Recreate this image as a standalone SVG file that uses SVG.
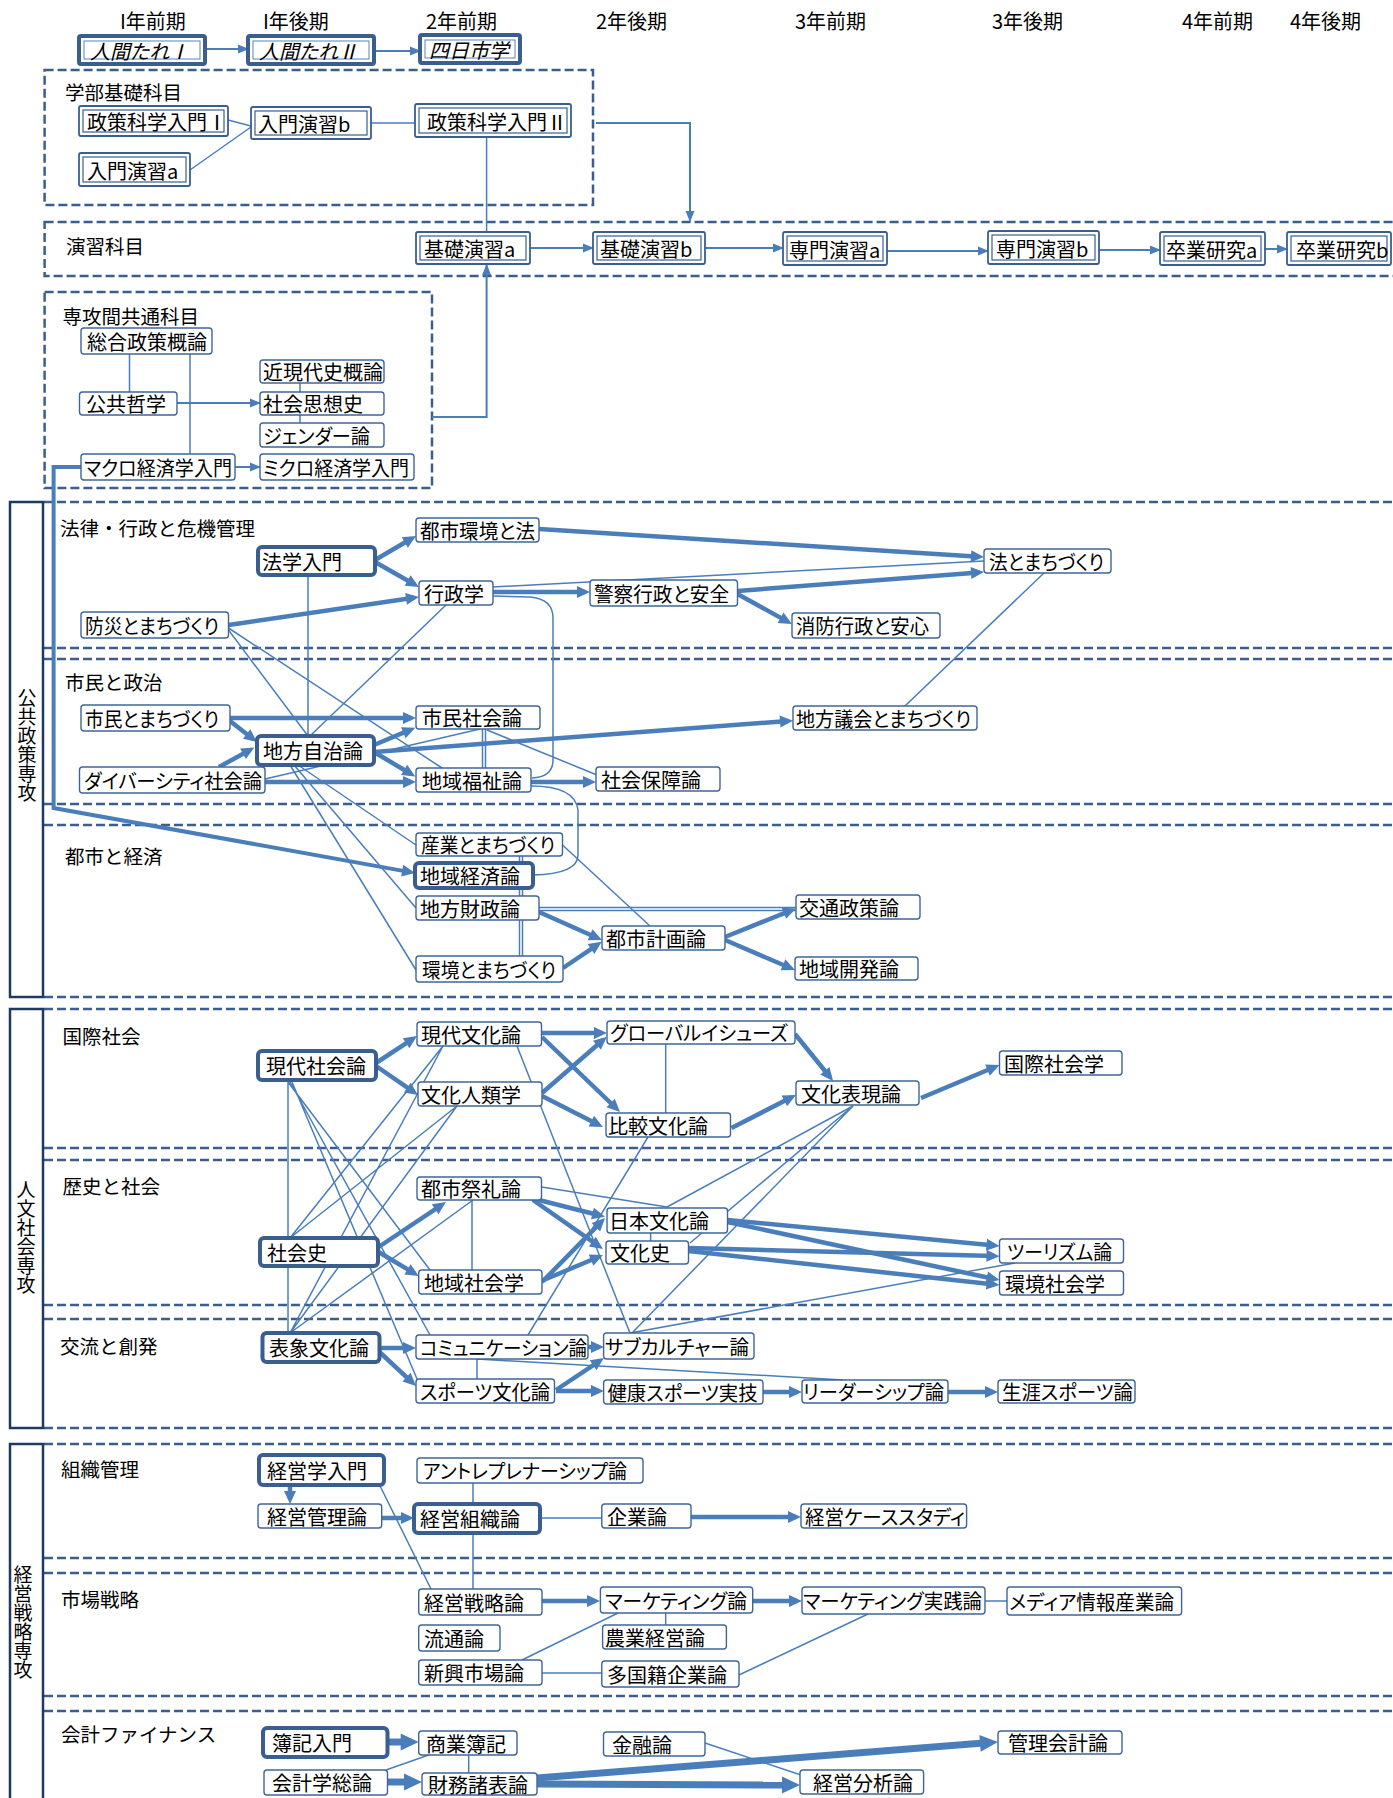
<svg xmlns="http://www.w3.org/2000/svg" width="1393" height="1798" viewBox="0 0 1393 1798">
<style>
text{font-family:"Noto Sans CJK JP","Noto Sans",sans-serif;fill:#000;}
.h{font-size:20px;dominant-baseline:central;}
.lb{font-size:19.5px;dominant-baseline:central;}
.v{font-size:19px;text-anchor:middle;writing-mode:vertical-rl;}
.n text,.nt text,.nd text,.nh text{font-size:20px;dominant-baseline:central;font-feature-settings:"palt";}
.n rect{fill:#fff;stroke:#3F6597;stroke-width:1.4;}
.nt rect{fill:#fff;stroke:#3A5F8F;stroke-width:4;}
.nd rect{fill:#fff;stroke:#3A5F8F;stroke-width:1.8;}
.nd rect.i{fill:none;stroke-width:1.2;}
.nh rect{fill:#fff;stroke:#3A5F8F;stroke-width:4;}
.nh rect.i{fill:none;stroke:#5B83BC;stroke-width:1;}
.nh text{font-style:italic;}
.dash{fill:none;stroke:#3B5E8F;stroke-width:2.5;stroke-dasharray:9 4;}
.side{fill:none;stroke:#1F3A5F;stroke-width:2.5;}
.c{fill:none;stroke:#4A7EBB;stroke-width:1.5;}
.ca{stroke-width:2;marker-end:url(#ah);}
.ck{stroke-width:4.5;marker-end:url(#ak);}
.cx{stroke-width:7;marker-end:url(#ax);}
</style>
<defs>
<marker id="ah" markerUnits="userSpaceOnUse" markerWidth="11" markerHeight="9" refX="10" refY="4.5" orient="auto" overflow="visible"><path d="M0,0 L11,4.5 L0,9 z" fill="#4A7EBB"/></marker>
<marker id="ak" markerUnits="userSpaceOnUse" markerWidth="13" markerHeight="12" refX="8" refY="6" orient="auto" overflow="visible"><path d="M0,0 L13,6 L0,12 z" fill="#4A7EBB"/></marker>
<marker id="ax" markerUnits="userSpaceOnUse" markerWidth="18" markerHeight="17" refX="10" refY="8.5" orient="auto" overflow="visible"><path d="M0,0 L18,8.5 L0,17 z" fill="#4A7EBB"/></marker>
</defs>
<rect width="1393" height="1798" fill="#fff"/>

<!-- term headers -->
<g id="headers">
<text class="h" x="120" y="20">I年前期</text>
<text class="h" x="263" y="20">I年後期</text>
<text class="h" x="426" y="20">2年前期</text>
<text class="h" x="596" y="20">2年後期</text>
<text class="h" x="795" y="20">3年前期</text>
<text class="h" x="992" y="20">3年後期</text>
<text class="h" x="1182" y="20">4年前期</text>
<text class="h" x="1290" y="20">4年後期</text>
</g>

<!-- group frames and section rules -->
<g id="frames">
<rect class="dash" x="44.6" y="70" width="548.4" height="135"/>
<rect class="dash" x="44.6" y="222" width="1360" height="54"/>
<rect class="dash" x="44.6" y="292" width="387.4" height="196"/>
<path class="dash" d="M44,502H1393M44,648H1393M44,659H1393M44,804H1393M44,825H1393M44,997H1393"/>
<path class="dash" d="M44,1009H1393M44,1148H1393M44,1160H1393M44,1305H1393M44,1319H1393M44,1428H1393"/>
<path class="dash" d="M44,1444H1393M44,1558H1393M44,1573H1393M44,1696H1393M44,1711H1393"/>
<rect class="side" x="10" y="502" width="33" height="495"/>
<rect class="side" x="10" y="1009" width="33" height="419"/>
<rect class="side" x="10" y="1444" width="33" height="380"/>
<text class="v" x="27" y="745">公共政策専攻</text>
<text class="v" x="26" y="1237">人文社会専攻</text>
<text class="v" x="23" y="1622">経営戦略専攻</text>
<text class="lb" x="65" y="91">学部基礎科目</text>
<text class="lb" x="66" y="245">演習科目</text>
<text class="lb" x="62.5" y="315">専攻間共通科目</text>
<text class="lb" x="60" y="527">法律・行政と危機管理</text>
<text class="lb" x="65" y="681">市民と政治</text>
<text class="lb" x="65" y="855">都市と経済</text>
<text class="lb" x="62.5" y="1035">国際社会</text>
<text class="lb" x="62.5" y="1185">歴史と社会</text>
<text class="lb" x="60" y="1345">交流と創発</text>
<text class="lb" x="61" y="1468">組織管理</text>
<text class="lb" x="61" y="1598">市場戦略</text>
<text class="lb" x="61" y="1733">会計ファイナンス</text>
</g>

<!-- connectors -->
<g id="connectors">
<path class="c ca" d="M205,49H248"/>
<path class="c ca" d="M374,51H420"/>
<path class="c" d="M228,120L251,126M190,170L251,127M371,123H415M486.6,137V232"/>
<path class="c ca" d="M596,123H690V221"/>
<path class="c ca" d="M432,417H486.6V265"/>
<path class="c ca" d="M530,248H593"/>
<path class="c ca" d="M705,248H783"/>
<path class="c ca" d="M887,251H988"/>
<path class="c ca" d="M1099,250H1160"/>
<path class="c ca" d="M1265,249H1287"/>
<path class="c" d="M129.5,354V392M190,354V454M300,383V392M300,415V423"/>
<path class="c ca" d="M177,403H260"/>
<path class="c ca" d="M235,467H260"/>
<path class="c" style="stroke-width:4;marker-end:url(#ak)" d="M81,467H53.6V808L410.1,872.1"/>

<path class="c ck" d="M375,560L411.7,538.5"/>
<path class="c ck" d="M375,562L414.6,584.5"/>
<path class="c ck" d="M539,529L979,556.7"/>
<path class="c ck" d="M493,592H585"/>
<path class="c" d="M493,587L984,561"/>
<path class="c ck" d="M737.5,591L979,572.4"/>
<path class="c ck" d="M737.5,594L787.6,621.6"/>
<path class="c ck" d="M228.5,625L414,597.7"/>
<path class="c" d="M228.5,630L308,736M228.5,628L442,768M308,575V736M446,605L310,736"/>
<path class="c" d="M493,596L530,597Q553,599 553,618L553,760Q553,777 532,778"/>
<path class="c" d="M1044,573L883,727"/>

<path class="c ck" d="M230,718H411"/>
<path class="c ck" d="M230,721L253,739"/>
<path class="c ck" d="M219,767L250,750"/>
<path class="c ck" d="M265,782H411"/>
<path class="c" d="M265,779L480,729"/>
<path class="c ck" d="M374,745L410.7,729.6"/>
<path class="c ck" d="M374,752L411,774"/>
<path class="c ck" d="M374,752L788,721"/>
<path class="c" d="M482.5,729V768M485.5,729V768"/>
<path class="c" d="M487,730L597,775"/>
<path class="c ck" d="M531,782H591"/>
<path class="c" d="M531,786Q575,786 578,810L578,855Q578,874 533,875"/>
<path class="c" d="M298,765L416,845M294,765L416,908M290,765L416,970"/>

<path class="c" d="M519.5,856V956M522.5,856V956"/>
<path class="c" d="M562.5,845L650,926"/>
<path class="c" d="M539,907.5H796M539,910.5H796"/>
<path class="c ck" d="M539,912L597.4,938"/>
<path class="c ck" d="M563,968L597.6,944.6"/>
<path class="c ck" d="M725,937L791.3,910.3"/>
<path class="c ck" d="M725,940L790.4,968"/>

<path class="c ck" d="M376,1063L412.8,1038.8"/>
<path class="c ck" d="M376,1066L413.9,1092.2"/>
<path class="c ck" d="M541.5,1033H602"/>
<path class="c ck" d="M542,1037L616.4,1108.5"/>
<path class="c ck" d="M542,1093L603,1040"/>
<path class="c ck" d="M542,1096L598.5,1124.7"/>
<path class="c" d="M665.7,1043V1113"/>
<path class="c ck" d="M795,1034L829.9,1077"/>
<path class="c ck" d="M731.5,1128L791.5,1097.3"/>
<path class="c ck" d="M921,1098L994.9,1067"/>
<path class="c" d="M288,1080V1238M288,1266V1333M288,1082L430,1270M290,1082L430,1335M292,1082L417,1379"/>
<path class="c" d="M290,1238L443,1046M290,1238L457,1106M290,1333L443,1046M290,1333L457,1106M290,1333L473,1200"/>
<path class="c" d="M517,1046L630,1333M648,1137L528,1335"/>

<path class="c ck" d="M378.6,1247L441.8,1204.8"/>
<path class="c ck" d="M378.6,1252L414.4,1273.4"/>
<path class="c" d="M472,1200V1270"/>
<path class="c ck" d="M531,1198L600.2,1215.5"/>
<path class="c ck" d="M533,1200L598.9,1246.2"/>
<path class="c ck" d="M542,1282L601.5,1221.6"/>
<path class="c ck" d="M543.7,1280L598.4,1257"/>
<path class="c" d="M541.7,1187L667,1207M853,1106L667,1207M650.6,1233V1241"/>
<path class="c ck" d="M727.5,1220L994.5,1245.5"/>
<path class="c ck" d="M727.5,1222L994.6,1279"/>
<path class="c ck" d="M688.5,1248L994.5,1256"/>
<path class="c ck" d="M688.5,1251L994.5,1284.5"/>
<path class="c" d="M1015,1263L630,1333M853,1106L690,1243M853,1106L632,1333"/>

<path class="c ck" d="M380,1348H411"/>
<path class="c ck" d="M379.5,1352L412.4,1382.6"/>
<path class="c ck" d="M588,1347H599"/>
<path class="c" d="M477,1359V1379M477,1359L843,1380"/>
<path class="c ck" d="M556,1390L599.8,1360.8"/>
<path class="c ck" d="M556,1391H599"/>
<path class="c ck" d="M763,1392H797"/>
<path class="c ck" d="M948,1392H993"/>

<path class="c ck" d="M290,1485V1499"/>
<path class="c ck" d="M382,1518H409"/>
<path class="c" d="M473,1483V1504M540,1518H602M473,1533V1589M378.6,1483L431,1589"/>
<path class="c ck" d="M691,1517H796"/>
<path class="c ck" d="M542,1601H595"/>
<path class="c ck" d="M753,1601H797"/>
<path class="c" d="M985,1601H1007M665.7,1613V1625M618,1613L522,1660M542,1673H602M739,1675L868,1614"/>
<path class="c cx" d="M387.5,1742H410.7"/>
<path class="c cx" d="M387.5,1782H414"/>
<path class="c" d="M468.7,1755V1773M428.6,1755L386,1770M705,1743L801,1775"/>
<path class="c cx" d="M537,1778L990,1742.6"/>
<path class="c cx" d="M537,1784L792,1785"/>
</g>

<!-- first-year common courses -->
<g id="n-ningen1" class="nh"><rect x="79" y="36" width="126" height="28" rx="2"/><rect class="i" x="84" y="41" width="116" height="18"/><text x="90" y="50">人間たれⅠ</text></g>
<g id="n-ningen2" class="nh"><rect x="248" y="36" width="126" height="28" rx="2"/><rect class="i" x="253" y="41" width="116" height="18"/><text x="259" y="50">人間たれⅡ</text></g>
<g id="n-yokkaichi" class="nh"><rect x="420" y="35" width="100" height="28" rx="2"/><rect class="i" x="425" y="40" width="90" height="18"/><text x="429" y="49">四日市学</text></g>

<!-- faculty basics -->
<g id="n-seisaku1" class="nd"><rect x="79" y="106" width="149" height="30" rx="2"/><rect class="i" x="83" y="110" width="141" height="22"/><text x="87" y="121">政策科学入門Ⅰ</text></g>
<g id="n-nyumon-b" class="nd"><rect x="251" y="107" width="120" height="32" rx="2"/><rect class="i" x="255" y="111" width="112" height="24"/><text x="258" y="123">入門演習b</text></g>
<g id="n-seisaku2" class="nd"><rect x="415" y="104" width="156" height="33" rx="2"/><rect class="i" x="419" y="108" width="148" height="25"/><text x="427" y="121">政策科学入門Ⅱ</text></g>
<g id="n-nyumon-a" class="nd"><rect x="79" y="153" width="111" height="33" rx="2"/><rect class="i" x="83" y="157" width="103" height="25"/><text x="87" y="170">入門演習a</text></g>

<!-- seminars -->
<g id="n-kiso-a" class="nd"><rect x="416" y="232" width="114" height="32" rx="2"/><rect class="i" x="420" y="236" width="106" height="24"/><text x="424" y="248">基礎演習a</text></g>
<g id="n-kiso-b" class="nd"><rect x="593" y="232" width="112" height="32" rx="2"/><rect class="i" x="597" y="236" width="104" height="24"/><text x="600" y="248">基礎演習b</text></g>
<g id="n-senmon-a" class="nd"><rect x="783" y="232" width="104" height="33" rx="2"/><rect class="i" x="787" y="236" width="96" height="25"/><text x="789" y="249">専門演習a</text></g>
<g id="n-senmon-b" class="nd"><rect x="988" y="231" width="111" height="33" rx="2"/><rect class="i" x="992" y="235" width="103" height="25"/><text x="996" y="248">専門演習b</text></g>
<g id="n-sotsu-a" class="nd"><rect x="1160" y="232" width="105" height="33" rx="2"/><rect class="i" x="1164" y="236" width="97" height="25"/><text x="1166" y="249">卒業研究a</text></g>
<g id="n-sotsu-b" class="nd"><rect x="1287" y="232" width="104" height="33" rx="2"/><rect class="i" x="1291" y="236" width="96" height="25"/><text x="1296" y="249">卒業研究b</text></g>

<!-- inter-major common -->
<g id="n-sogo" class="n"><rect x="81" y="328" width="131" height="26" rx="3"/><text x="87" y="341">総合政策概論</text></g>
<g id="n-kokyo" class="n"><rect x="79.5" y="392" width="97.5" height="23" rx="3"/><text x="86" y="403.5">公共哲学</text></g>
<g id="n-kingendai" class="n"><rect x="260" y="360" width="124" height="23" rx="3"/><text x="263" y="371.5">近現代史概論</text></g>
<g id="n-shiso" class="n"><rect x="260" y="392" width="124" height="23" rx="3"/><text x="263" y="403.5">社会思想史</text></g>
<g id="n-gender" class="n"><rect x="260" y="423" width="124" height="24" rx="3"/><text x="263" y="435" textLength="107" lengthAdjust="spacingAndGlyphs">ジェンダー論</text></g>
<g id="n-macro" class="n"><rect x="81" y="454" width="154" height="26" rx="3"/><text x="84" y="467" textLength="148" lengthAdjust="spacingAndGlyphs">マクロ経済学入門</text></g>
<g id="n-micro" class="n"><rect x="260" y="454" width="154" height="26" rx="3"/><text x="263" y="467" textLength="146" lengthAdjust="spacingAndGlyphs">ミクロ経済学入門</text></g>

<!-- public policy -->
<g id="n-toshikankyo" class="n"><rect x="416" y="518" width="123" height="24" rx="3"/><text x="420" y="530" textLength="115" lengthAdjust="spacingAndGlyphs">都市環境と法</text></g>
<g id="n-hogaku" class="nt"><rect x="258" y="547" width="117" height="28" rx="4"/><text x="262" y="561">法学入門</text></g>
<g id="n-gyosei" class="n"><rect x="419" y="581" width="74" height="24" rx="3"/><text x="424" y="593">行政学</text></g>
<g id="n-bosai" class="n"><rect x="81" y="612" width="147.5" height="26" rx="3"/><text x="85" y="625" textLength="134" lengthAdjust="spacingAndGlyphs">防災とまちづくり</text></g>
<g id="n-keisatsu" class="n"><rect x="590" y="580" width="147.5" height="26" rx="3"/><text x="594" y="593" textLength="135" lengthAdjust="spacingAndGlyphs">警察行政と安全</text></g>
<g id="n-homachi" class="n"><rect x="984" y="549" width="127" height="24" rx="3"/><text x="989" y="561" textLength="115" lengthAdjust="spacingAndGlyphs">法とまちづくり</text></g>
<g id="n-shobo" class="n"><rect x="792" y="613" width="148" height="25" rx="3"/><text x="796" y="625.5" textLength="133" lengthAdjust="spacingAndGlyphs">消防行政と安心</text></g>
<g id="n-shimin-machi" class="n"><rect x="81" y="705" width="149" height="26" rx="3"/><text x="85" y="718" textLength="134" lengthAdjust="spacingAndGlyphs">市民とまちづくり</text></g>
<g id="n-chiho-jichi" class="nt"><rect x="257" y="736" width="117" height="29" rx="4"/><text x="263" y="750.5">地方自治論</text></g>
<g id="n-diversity" class="n"><rect x="79.5" y="767" width="185.5" height="26" rx="3"/><text x="84" y="780" textLength="178" lengthAdjust="spacingAndGlyphs">ダイバーシティ社会論</text></g>
<g id="n-shimin-shakai" class="n"><rect x="416" y="706" width="124" height="23" rx="3"/><text x="422" y="717.5">市民社会論</text></g>
<g id="n-fukushi" class="n"><rect x="416" y="768" width="115" height="24" rx="3"/><text x="422" y="780">地域福祉論</text></g>
<g id="n-shakaihosho" class="n"><rect x="596" y="767" width="124" height="24" rx="3"/><text x="601" y="779">社会保障論</text></g>
<g id="n-gikai" class="n"><rect x="793" y="706" width="184" height="24" rx="3"/><text x="796" y="718" textLength="175" lengthAdjust="spacingAndGlyphs">地方議会とまちづくり</text></g>
<g id="n-sangyo" class="n"><rect x="416" y="833" width="146.5" height="23" rx="3"/><text x="421" y="844.5" textLength="134" lengthAdjust="spacingAndGlyphs">産業とまちづくり</text></g>
<g id="n-chiiki-keizai" class="nt"><rect x="415" y="863" width="118" height="25" rx="4"/><text x="420" y="875.5">地域経済論</text></g>
<g id="n-zaisei" class="n"><rect x="416" y="896" width="123" height="24" rx="3"/><text x="420" y="908">地方財政論</text></g>
<g id="n-kankyo-machi" class="n"><rect x="416" y="956" width="147" height="26" rx="3"/><text x="422" y="969" textLength="134" lengthAdjust="spacingAndGlyphs">環境とまちづくり</text></g>
<g id="n-toshikeikaku" class="n"><rect x="602" y="926" width="123" height="24" rx="3"/><text x="606" y="938">都市計画論</text></g>
<g id="n-kotsu" class="n"><rect x="796" y="895" width="124" height="24" rx="3"/><text x="799" y="907">交通政策論</text></g>
<g id="n-kaihatsu" class="n"><rect x="795" y="957" width="123" height="23" rx="3"/><text x="799" y="968.5">地域開発論</text></g>

<!-- humanities and society -->
<g id="n-gendai-bunka" class="n"><rect x="417" y="1022" width="124.5" height="24" rx="3"/><text x="421" y="1034">現代文化論</text></g>
<g id="n-gendai-shakai" class="nt"><rect x="258" y="1051" width="118" height="29" rx="4"/><text x="266" y="1065.5">現代社会論</text></g>
<g id="n-jinrui" class="n"><rect x="418" y="1082" width="124" height="24" rx="3"/><text x="421" y="1094">文化人類学</text></g>
<g id="n-global" class="n"><rect x="607" y="1021" width="188" height="23" rx="3"/><text x="610" y="1032.5" textLength="178" lengthAdjust="spacingAndGlyphs">グローバルイシューズ</text></g>
<g id="n-hikaku" class="n"><rect x="606" y="1113" width="124.5" height="24" rx="3"/><text x="608" y="1125">比較文化論</text></g>
<g id="n-hyogen" class="n"><rect x="796" y="1081" width="123" height="24" rx="3"/><text x="801" y="1093">文化表現論</text></g>
<g id="n-kokusai" class="n"><rect x="999.5" y="1051" width="122.5" height="24" rx="3"/><text x="1004" y="1063">国際社会学</text></g>
<g id="n-sairei" class="n"><rect x="417" y="1177" width="124.5" height="23" rx="3"/><text x="421" y="1188.5">都市祭礼論</text></g>
<g id="n-shakaishi" class="nt"><rect x="260" y="1238" width="118" height="28" rx="4"/><text x="267" y="1252">社会史</text></g>
<g id="n-chiiki-shakai" class="n"><rect x="418.7" y="1270" width="123.3" height="24" rx="3"/><text x="424" y="1282">地域社会学</text></g>
<g id="n-nihon" class="n"><rect x="607" y="1208" width="120.5" height="25" rx="3"/><text x="609" y="1220.5">日本文化論</text></g>
<g id="n-bunkashi" class="n"><rect x="606" y="1241" width="82.5" height="23" rx="3"/><text x="610" y="1252.5">文化史</text></g>
<g id="n-tourism" class="n"><rect x="999.5" y="1239" width="124" height="24" rx="3"/><text x="1007" y="1251" textLength="105" lengthAdjust="spacingAndGlyphs">ツーリズム論</text></g>
<g id="n-kankyo-shakai" class="n"><rect x="999.5" y="1271" width="124" height="24" rx="3"/><text x="1005" y="1283">環境社会学</text></g>
<g id="n-hyosho" class="nt"><rect x="262.5" y="1333" width="117" height="29" rx="4"/><text x="269" y="1347.5">表象文化論</text></g>
<g id="n-comm" class="n"><rect x="416" y="1335" width="172" height="24" rx="3"/><text x="420" y="1347" textLength="167" lengthAdjust="spacingAndGlyphs">コミュニケーション論</text></g>
<g id="n-subcul" class="n"><rect x="603.6" y="1333" width="150.4" height="26" rx="3"/><text x="605" y="1346" textLength="144" lengthAdjust="spacingAndGlyphs">サブカルチャー論</text></g>
<g id="n-sports" class="n"><rect x="416" y="1379" width="138.5" height="24" rx="3"/><text x="420" y="1391" textLength="130" lengthAdjust="spacingAndGlyphs">スポーツ文化論</text></g>
<g id="n-kenko" class="n"><rect x="603.6" y="1380" width="159.4" height="24" rx="3"/><text x="607.5" y="1392" textLength="150" lengthAdjust="spacingAndGlyphs">健康スポーツ実技</text></g>
<g id="n-leader" class="n"><rect x="802" y="1380" width="146" height="23" rx="3"/><text x="803" y="1391.5" textLength="141" lengthAdjust="spacingAndGlyphs">リーダーシップ論</text></g>
<g id="n-shogai" class="n"><rect x="998" y="1380" width="137" height="23" rx="3"/><text x="1002" y="1391.5" textLength="131" lengthAdjust="spacingAndGlyphs">生涯スポーツ論</text></g>

<!-- business strategy -->
<g id="n-keiei-nyumon" class="nt"><rect x="259" y="1455" width="125" height="30" rx="4"/><text x="267" y="1470">経営学入門</text></g>
<g id="n-entre" class="n"><rect x="417" y="1458" width="226" height="25" rx="3"/><text x="423" y="1470.5" textLength="204" lengthAdjust="spacingAndGlyphs">アントレプレナーシップ論</text></g>
<g id="n-kanri" class="n"><rect x="258" y="1504" width="123.7" height="24" rx="3"/><text x="267" y="1516">経営管理論</text></g>
<g id="n-soshiki" class="nt"><rect x="414" y="1504" width="126" height="29" rx="4"/><text x="420" y="1518.5">経営組織論</text></g>
<g id="n-kigyo" class="n"><rect x="601.8" y="1504" width="89.2" height="24" rx="3"/><text x="607" y="1516">企業論</text></g>
<g id="n-case" class="n"><rect x="801" y="1504" width="165.6" height="24" rx="3"/><text x="805" y="1516" textLength="160" lengthAdjust="spacingAndGlyphs">経営ケーススタディ</text></g>
<g id="n-senryaku" class="n"><rect x="418.7" y="1589" width="123.3" height="26" rx="3"/><text x="424" y="1602">経営戦略論</text></g>
<g id="n-marketing" class="n"><rect x="600.4" y="1587" width="152.3" height="26" rx="3"/><text x="605" y="1600" textLength="142" lengthAdjust="spacingAndGlyphs">マーケティング論</text></g>
<g id="n-ryutsu" class="n"><rect x="418.7" y="1625" width="81.3" height="26" rx="3"/><text x="424" y="1638">流通論</text></g>
<g id="n-nogyo" class="n"><rect x="602.6" y="1625" width="123.8" height="24" rx="3"/><text x="605" y="1637">農業経営論</text></g>
<g id="n-shinko" class="n"><rect x="418.7" y="1660" width="123.3" height="25" rx="3"/><text x="424" y="1672.5">新興市場論</text></g>
<g id="n-takokuseki" class="n"><rect x="601.8" y="1661" width="137.2" height="26" rx="3"/><text x="607" y="1674">多国籍企業論</text></g>
<g id="n-jissen" class="n"><rect x="802" y="1587" width="183" height="27" rx="3"/><text x="803" y="1600.5" textLength="179" lengthAdjust="spacingAndGlyphs">マーケティング実践論</text></g>
<g id="n-media" class="n"><rect x="1007" y="1587" width="174.6" height="28" rx="3"/><text x="1009" y="1601" textLength="165" lengthAdjust="spacingAndGlyphs">メディア情報産業論</text></g>
<g id="n-boki" class="nt"><rect x="263" y="1728" width="124.5" height="29" rx="4"/><text x="272" y="1742.5">簿記入門</text></g>
<g id="n-shogyo" class="n"><rect x="418.7" y="1731" width="98.3" height="24" rx="3"/><text x="426" y="1743">商業簿記</text></g>
<g id="n-kinyu" class="n"><rect x="603.5" y="1732" width="101.5" height="24" rx="3"/><text x="612" y="1744">金融論</text></g>
<g id="n-kanri-kaikei" class="n"><rect x="998" y="1731" width="124" height="23" rx="3"/><text x="1008" y="1742.5">管理会計論</text></g>
<g id="n-kaikei" class="n"><rect x="264" y="1770" width="123.5" height="25" rx="3"/><text x="272" y="1782.5">会計学総論</text></g>
<g id="n-zaimu" class="n"><rect x="422" y="1773" width="115" height="22" rx="3"/><text x="428" y="1784">財務諸表論</text></g>
<g id="n-bunseki" class="n"><rect x="800" y="1770" width="123.6" height="24" rx="3"/><text x="813" y="1782">経営分析論</text></g>
</svg>
